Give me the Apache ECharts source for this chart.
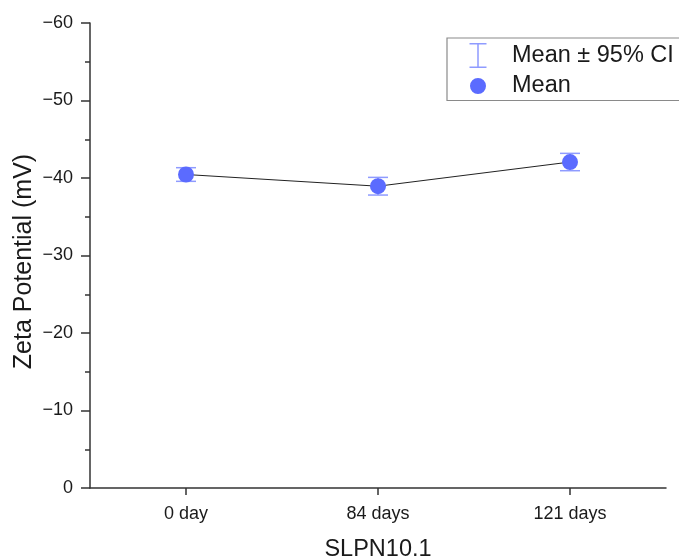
<!DOCTYPE html>
<html>
<head>
<meta charset="utf-8">
<script src="https://cdn.jsdelivr.net/npm/echarts@6/dist/echarts.min.js"></script>
<style>
  html, body { margin: 0; padding: 0; background: #fff; }
  #chart { width: 679px; height: 558px; }
</style>
</head>
<body>
<div id="chart"></div>
<script>
// Storage times for sample SLPN10.1
const categories = ['0 day', '84 days', '121 days'];
// Mean zeta potential (mV)
const meanValues = [-40.45, -38.94, -42.06];
// 95% confidence interval bounds (mV)
const ciLow = [-39.57, -37.80, -40.94];
const ciHigh = [-41.33, -40.08, -43.18];
// Y axis range and step
const yMin = -60;
const yMax = 0;
const yStep = 10;

const FONT = '"Liberation Sans", Arial, Helvetica, sans-serif';
const MARKER = '#5b6bff';
const ERRBAR = '#8f9bff';

const ciData = categories.map((c, i) => [i, ciLow[i], ciHigh[i]]);

// Legend icons: shapes framed by zero-width segments so both share a 58x25 box
const frame = ' M0,0 L0.01,0 M58,25 L57.99,25';
const iconErr = 'path://M20.5,0 L37.5,0 L37.5,1.5 L29.75,1.5 L29.75,23.5 L37.5,23.5 L37.5,25 L20.5,25 L20.5,23.5 L28.25,23.5 L28.25,1.5 L20.5,1.5 Z' + frame;
const iconDot = 'path://M21,12.5 A8,8 0 1,1 37,12.5 A8,8 0 1,1 21,12.5 Z' + frame;

const chart = echarts.init(document.getElementById('chart'), null, { renderer: 'canvas' });

chart.setOption({
  backgroundColor: '#ffffff',
  animation: false,
  textStyle: { fontFamily: FONT },
  grid: { left: 90, right: 13, top: 23, bottom: 70, containLabel: false, outerBoundsMode: 'none' },
  legend: {
    orient: 'vertical',
    left: 447,
    top: 38,
    padding: [5, 30, 2, 2],
    itemWidth: 58,
    itemHeight: 25,
    itemGap: 5.5,
    borderColor: '#8a8a8a',
    borderWidth: 1.2,
    selectedMode: false,
    textStyle: { fontFamily: FONT, fontSize: 23.5, color: '#1a1a1a' },
    data: [
      { name: 'Mean ± 95% CI', icon: iconErr, itemStyle: { color: ERRBAR } },
      { name: 'Mean', icon: iconDot, itemStyle: { color: MARKER } }
    ]
  },
  xAxis: {
    type: 'category',
    data: categories,
    boundaryGap: true,
    name: 'SLPN10.1',
    nameLocation: 'middle',
    nameGap: 50,
    nameMoveOverlap: false,
    nameTextStyle: { fontFamily: FONT, fontSize: 23.5, color: '#1a1a1a' },
    axisLine: { show: true, lineStyle: { color: '#333', width: 1.5 } },
    axisTick: { show: true, alignWithLabel: true, inside: false, length: 7, lineStyle: { color: '#333', width: 1.5 } },
    axisLabel: { fontFamily: FONT, fontSize: 18, color: '#1a1a1a', margin: 17 },
    splitLine: { show: false }
  },
  yAxis: {
    type: 'value',
    inverse: true,
    min: yMin,
    max: yMax,
    interval: yStep,
    name: 'Zeta Potential (mV)',
    nameLocation: 'middle',
    nameGap: 53,
    nameRotate: 90,
    nameMoveOverlap: false,
    nameTextStyle: { fontFamily: FONT, fontSize: 25, color: '#1a1a1a', padding: [0, 12, 0, 0] },
    axisLine: { show: true, lineStyle: { color: '#333', width: 1.5 } },
    axisTick: { show: true, inside: false, length: 9, lineStyle: { color: '#333', width: 1.5 } },
    minorTick: { show: true, splitNumber: 2, length: 5, lineStyle: { color: '#333', width: 1.5 } },
    axisLabel: {
      fontFamily: FONT, fontSize: 18, color: '#1a1a1a', margin: 17,
      formatter: v => (v < 0 ? '\u2212' + Math.abs(v) : String(v))
    },
    splitLine: { show: false }
  },
  series: [
    {
      name: 'trend',
      type: 'line',
      data: meanValues,
      symbol: 'none',
      lineStyle: { color: '#222', width: 1 },
      z: 1,
      silent: true
    },
    {
      name: 'Mean ± 95% CI',
      type: 'custom',
      data: ciData,
      z: 2,
      itemStyle: { color: ERRBAR },
      renderItem: function (params, api) {
        const x = api.value(0);
        const lo = api.coord([x, api.value(1)]);
        const hi = api.coord([x, api.value(2)]);
        const half = 10;
        const style = { stroke: ERRBAR, lineWidth: 1.5 };
        return {
          type: 'group',
          children: [
            { type: 'line', shape: { x1: lo[0], y1: lo[1], x2: hi[0], y2: hi[1] }, style: style },
            { type: 'line', shape: { x1: lo[0] - half, y1: lo[1], x2: lo[0] + half, y2: lo[1] }, style: style },
            { type: 'line', shape: { x1: hi[0] - half, y1: hi[1], x2: hi[0] + half, y2: hi[1] }, style: style }
          ]
        };
      }
    },
    {
      name: 'Mean',
      type: 'scatter',
      data: meanValues,
      symbol: 'circle',
      symbolSize: 16,
      itemStyle: { color: MARKER, opacity: 1 },
      z: 3
    }
  ]
});
</script>
</body>
</html>
